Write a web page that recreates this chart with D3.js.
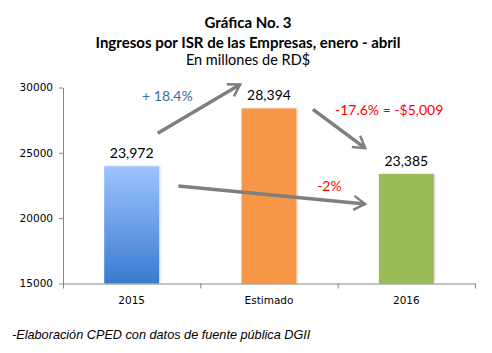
<!DOCTYPE html>
<html>
<head>
<meta charset="utf-8">
<script src="https://cdn.jsdelivr.net/npm/d3@7"></script>
<style>
  body { margin: 0; background: #fff; }
</style>
</head>
<body>
<div id="chart"></div>
<script>
// datos
const categorias = ["2015", "Estimado", "2016"];
const valores = [23972, 28394, 23385];
const yTicks = [15000, 20000, 25000, 30000];
const titulos = ["Gráfica No. 3", "Ingresos por ISR de las Empresas, enero - abril", "En millones de RD$"];
const fuente = "-Elaboración CPED con datos de fuente pública DGII";
// flechas: [indice inicio, valor inicio, indice fin, valor fin]
const flechas = [
    [0.19, 26500, 0.79, 30230],
    [1.32, 28330, 1.70, 25360],
    [0.34, 22460, 1.70, 21090]
];
// notas: [texto, indice, valor]
const notas = [
    ["+ 18.4%", 0.26, 29310],
    ["-17.6% = -$5,009", 1.875, 28280],
    ["-2%", 1.44, 22460]
];

const width = 492, height = 353;
const marginLeft = 63, marginRight = 17, marginTop = 87.5, marginBottom = 69.5;

const svg = d3.select("#chart").append("svg")
    .attr("width", width)
    .attr("height", height)
    .attr("viewBox", [0, 0, width, height]);

// degradados
const defs = svg.append("defs");
const grad = defs.append("linearGradient")
    .attr("id", "gradAzul")
    .attr("x1", 0).attr("y1", 0).attr("x2", 0).attr("y2", 1);
grad.append("stop").attr("offset", "0%").attr("stop-color", "#9dc3ff");
grad.append("stop").attr("offset", "100%").attr("stop-color", "#3a7bd0");
defs.append("marker")
    .attr("id", "punta")
    .attr("viewBox", [0, 0, 10, 10])
    .attr("refX", 8)
    .attr("refY", 5)
    .attr("markerWidth", 5)
    .attr("markerHeight", 5)
    .attr("markerUnits", "strokeWidth")
    .attr("orient", "auto")
  .append("path")
    .attr("d", "M1.5,1 L8,5 L1.5,9")
    .attr("fill", "none")
    .attr("stroke", "#7f7f7f")
    .attr("stroke-width", 1.4)
    .attr("stroke-linejoin", "miter");
const sombra = defs.append("filter").attr("id", "sombra")
    .attr("x", "-20%").attr("y", "-5%").attr("width", "140%").attr("height", "110%");
sombra.append("feDropShadow")
    .attr("dx", 1).attr("dy", 0).attr("stdDeviation", 1)
    .attr("flood-color", "#000").attr("flood-opacity", 0.18);

const colores = ["url(#gradAzul)", "#f79646", "#9bbb59"];

// escalas
const x = d3.scaleBand(categorias, [marginLeft, width - marginRight])
    .paddingInner(0.6).paddingOuter(0.3);
const xi = d3.scaleLinear([-0.5, 2.5], [marginLeft, width - marginRight]);
const y = d3.scaleLinear([15000, 30000], [height - marginBottom, marginTop]);

// titulo
const tit = svg.append("g")
    .attr("font-family", "Lato, 'Open Sans', sans-serif")
    .attr("text-anchor", "middle")
    .attr("fill", "#000");
tit.append("text").attr("x", 248).attr("y", 28)
    .attr("font-weight", "bold").attr("font-size", 15).text(titulos[0]);
tit.append("text").attr("x", 248).attr("y", 48)
    .attr("font-weight", "bold").attr("font-size", 15).text(titulos[1]);
tit.append("text").attr("x", 248).attr("y", 65)
    .attr("font-size", 14.5).text(titulos[2]);

// barras
svg.append("g")
    .selectAll("rect")
    .data(valores)
    .join("rect")
    .attr("x", (d, i) => x(categorias[i]))
    .attr("y", d => y(d))
    .attr("width", x.bandwidth())
    .attr("height", d => y(15000) - y(d))
    .attr("fill", (d, i) => colores[i])
    .attr("filter", "url(#sombra)");

// etiquetas de valores
svg.append("g")
    .attr("font-family", "Lato, 'Open Sans', sans-serif")
    .attr("font-size", 14)
    .attr("text-anchor", "middle")
    .selectAll("text")
    .data(valores)
    .join("text")
    .attr("x", (d, i) => x(categorias[i]) + x.bandwidth() / 2)
    .attr("y", d => y(d) - 8)
    .text(d => d3.format(",")(d));

// eje y
svg.append("g")
    .attr("transform", `translate(${marginLeft},0)`)
    .call(d3.axisLeft(y).tickValues(yTicks).tickFormat(d3.format("d")).tickSize(4).tickSizeOuter(0))
    .call(g => g.selectAll("path, line").attr("stroke", "#868686"))
    .call(g => g.selectAll("text")
        .attr("font-family", "'DejaVu Sans', Verdana, sans-serif")
        .attr("font-size", 10.5)
        .attr("fill", "#000")
        .attr("x", -10));

// eje x
svg.append("g")
    .attr("transform", `translate(0,${height - marginBottom})`)
    .call(d3.axisBottom(xi).tickValues([-0.5, 0.5, 1.5, 2.5]).tickFormat("").tickSize(5).tickSizeOuter(0))
    .call(g => g.selectAll("path, line").attr("stroke", "#868686"));
svg.append("g")
    .attr("font-family", "'DejaVu Sans', Verdana, sans-serif")
    .attr("font-size", 10.5)
    .attr("text-anchor", "middle")
    .selectAll("text")
    .data(categorias)
    .join("text")
    .attr("x", d => x(d) + x.bandwidth() / 2)
    .attr("y", height - marginBottom + 20)
    .text(d => d);

// flechas
svg.append("g")
    .selectAll("line")
    .data(flechas)
    .join("line")
    .attr("x1", d => xi(d[0]))
    .attr("y1", d => y(d[1]))
    .attr("x2", d => xi(d[2]))
    .attr("y2", d => y(d[3]))
    .attr("stroke", "#7f7f7f")
    .attr("stroke-width", 3.5)
    .attr("marker-end", "url(#punta)");

// notas
svg.append("g")
    .attr("font-family", "Lato, 'Open Sans', sans-serif")
    .attr("font-size", 14)
    .attr("text-anchor", "middle")
    .selectAll("text")
    .data(notas)
    .join("text")
    .attr("x", d => xi(d[1]))
    .attr("y", d => y(d[2]))
    .attr("dy", "0.35em")
    .attr("fill", (d, i) => i == 0 ? "#3b6ea5" : "#ff0000")
    .text(d => d[0]);

// fuente
svg.append("text")
    .attr("x", 12)
    .attr("y", 339)
    .attr("font-family", "'Liberation Sans', Arial, sans-serif")
    .attr("font-style", "italic")
    .attr("font-size", 12.7)
    .text(fuente);
</script>
</body>
</html>
